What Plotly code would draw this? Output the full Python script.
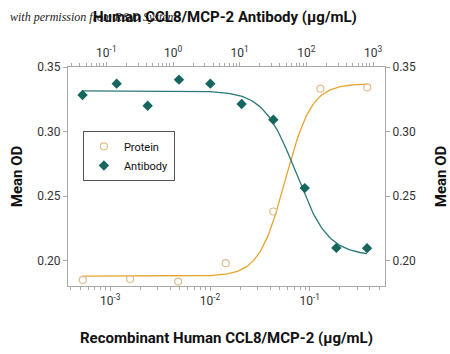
import numpy as np
import plotly.graph_objects as go

# --- data ---
protein_conc = [0.00053, 0.00158, 0.0048, 0.0144, 0.0431, 0.128, 0.378]
protein_od = [0.1851, 0.1859, 0.1838, 0.1981, 0.2381, 0.3332, 0.3342]

antibody_conc = [0.044, 0.143, 0.417, 1.23, 3.63, 10.7, 32.0, 94.5, 282.0, 815.0]
antibody_od = [0.3283, 0.3371, 0.3200, 0.3402, 0.3371, 0.3213, 0.3091, 0.2562, 0.2099, 0.2097]

# 4PL fit parameters (bottom, top, log10 EC50, hill)
protein_fit = dict(bottom=0.188, top=0.337, logec50=-1.245, hill=3.3)
antibody_fit = dict(bottom=0.204, top=0.3315, logec50=1.845, hill=1.8)

bottom_tickvals = [1e-3, 1e-2, 1e-1]
bottom_ticktext = ["10<sup>-3</sup>", "10<sup>-2</sup>", "10<sup>-1</sup>"]
top_tickvals = [1e-1, 1e0, 1e1, 1e2, 1e3]
top_ticktext = ["10<sup>-1</sup>", "10<sup>0</sup>", "10<sup>1</sup>", "10<sup>2</sup>", "10<sup>3</sup>"]
y_tickvals = [0.20, 0.25, 0.30, 0.35]
y_ticktext = ["0.20", "0.25", "0.30", "0.35"]


def four_pl(x, p):
    return p["bottom"] + (p["top"] - p["bottom"]) / (1 + 10 ** (p["hill"] * (p["logec50"] - np.log10(x))))


def four_pl_dec(x, p):
    return p["bottom"] + (p["top"] - p["bottom"]) / (1 + 10 ** (p["hill"] * (np.log10(x) - p["logec50"])))


def minor_log_ticks(lo_exp, hi_exp):
    return [m * 10.0 ** e for e in range(lo_exp, hi_exp + 1) for m in range(2, 10)]


px_ = np.logspace(np.log10(protein_conc[0]), np.log10(protein_conc[-1]), 200)
ax_ = np.logspace(np.log10(antibody_conc[0]), np.log10(antibody_conc[-1]), 200)

ORANGE = "#E3A52E"
ORANGE_PT = "#E2BD8E"
TEAL = "#16665F"
TEAL_LINE = "#2B7877"
AXIS = "#A8A8A8"
FONT = "Roboto, sans-serif"

fig = go.Figure()
fig.add_trace(go.Scatter(x=px_, y=four_pl(px_, protein_fit), mode="lines",
                         line=dict(color=ORANGE, width=1.3), showlegend=False,
                         xaxis="x", yaxis="y", hoverinfo="skip"))
fig.add_trace(go.Scatter(x=ax_, y=four_pl_dec(ax_, antibody_fit), mode="lines",
                         line=dict(color=TEAL_LINE, width=1.3), showlegend=False,
                         xaxis="x2", yaxis="y", hoverinfo="skip"))
fig.add_trace(go.Scatter(x=protein_conc, y=protein_od, mode="markers", name="Protein",
                         marker=dict(symbol="circle-open", size=7, color=ORANGE_PT,
                                     line=dict(width=1.2, color=ORANGE_PT)),
                         xaxis="x", yaxis="y"))
fig.add_trace(go.Scatter(x=antibody_conc, y=antibody_od, mode="markers", name="Antibody",
                         marker=dict(symbol="diamond", size=8, color=TEAL),
                         xaxis="x2", yaxis="y"))
# dummy for right axis
fig.add_trace(go.Scatter(x=[protein_conc[0]], y=[protein_od[0]], mode="markers",
                         marker=dict(opacity=0), showlegend=False, xaxis="x", yaxis="y2",
                         hoverinfo="skip"))

tickfont = dict(family=FONT, size=12, color="#333333")
titlefont = dict(family=FONT, size=15, color="#111111")

PW, PH = 317, 219
fig.update_layout(
    width=450, height=354,
    margin=dict(l=68, r=65, t=67, b=68),
    paper_bgcolor="white", plot_bgcolor="white",
    xaxis=dict(type="log", range=[-3.424, -0.245], tickvals=bottom_tickvals, ticktext=bottom_ticktext,
               automargin=False,
               showgrid=False, zeroline=False, showline=True, linecolor=AXIS, linewidth=1,
               ticks="outside", ticklen=4, tickcolor=AXIS, tickfont=tickfont,
               minor=dict(ticks="outside", ticklen=3, tickcolor=AXIS, showgrid=False,
                          tickmode="array", tickvals=minor_log_ticks(-4, -1)),
               title=dict(text="<b>Recombinant Human CCL8/MCP-2 (μg/mL)</b>", font=titlefont, standoff=25)),
    xaxis2=dict(type="log", range=[-1.575, 3.18], overlaying="x", side="top",
                tickvals=top_tickvals, ticktext=top_ticktext, automargin=False,
                showgrid=False, zeroline=False, showline=True, linecolor=AXIS, linewidth=1,
                ticks="outside", ticklen=4, tickcolor=AXIS, tickfont=tickfont,
                minor=dict(ticks="outside", ticklen=3, tickcolor=AXIS, showgrid=False,
                           tickmode="array", tickvals=minor_log_ticks(-2, 3))),
    yaxis=dict(range=[0.1804, 0.35], tickvals=y_tickvals, ticktext=y_ticktext, automargin=False,
               showgrid=False, zeroline=False, showline=True, linecolor=AXIS, linewidth=1,
               ticks="outside", ticklen=4, tickcolor=AXIS, tickfont=tickfont,
               title=dict(text="<b>Mean OD</b>", font=titlefont, standoff=10)),
    yaxis2=dict(range=[0.1804, 0.35], overlaying="y", side="right", tickvals=y_tickvals, ticktext=y_ticktext,
                automargin=False,
                showgrid=False, zeroline=False, showline=True, linecolor=AXIS, linewidth=1,
                ticks="outside", ticklen=4, tickcolor=AXIS, tickfont=tickfont,
                title=dict(text="<b>Mean OD</b>", font=titlefont, standoff=20)),
    legend=dict(x=0.047, y=0.708, xanchor="left", yanchor="top",
                bordercolor="#555555", borderwidth=1, bgcolor="white",
                font=dict(family=FONT, size=11, color="#111111"),
                itemwidth=30, tracegroupgap=2),
    annotations=[
        dict(text="<i>with permission from R&D Systems</i>",
             x=(8 - 68) / PW, y=(286 - 17) / PH, xref="paper", yref="paper",
             xanchor="left", yanchor="middle", showarrow=False,
             font=dict(family="Liberation Serif, serif", size=12, color="#222222")),
        dict(text="<b>Human CCL8/MCP-2 Antibody (μg/mL)</b>",
             x=(225 - 68) / PW, y=(286 - 17) / PH, xref="paper", yref="paper",
             xanchor="center", yanchor="middle", showarrow=False, font=titlefont),
    ],
)

fig.write_html("out.html")
